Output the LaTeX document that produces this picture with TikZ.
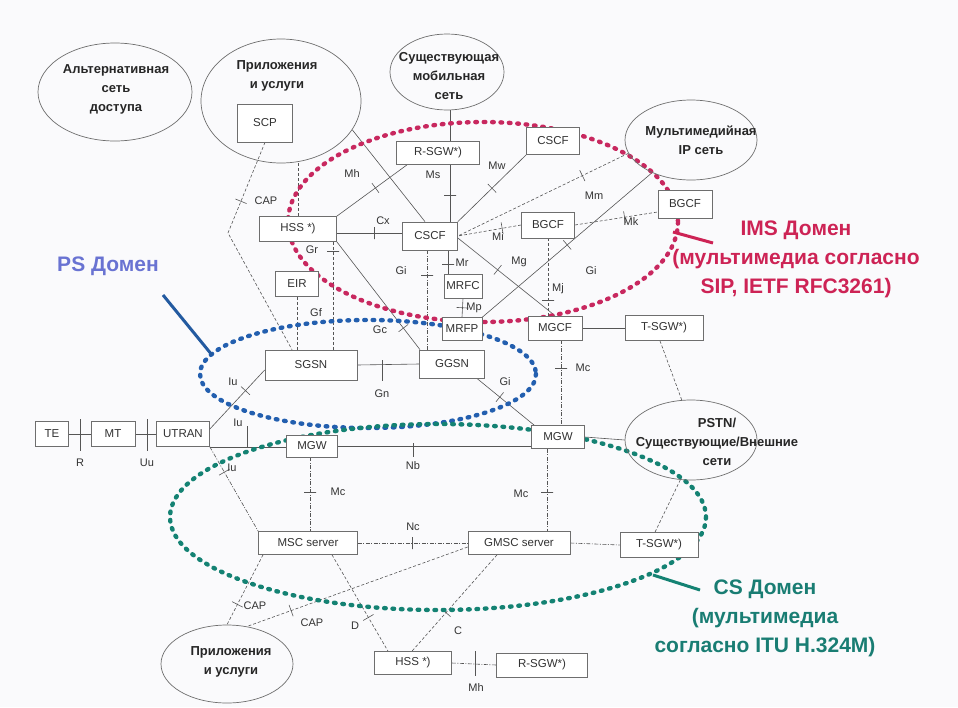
\documentclass[tikz,border=0pt]{standalone}
\usepackage{fontspec}
\setmainfont{Liberation Sans}
\usetikzlibrary{shapes.geometric}
\definecolor{imsred}{RGB}{205,35,85}
\definecolor{imsdot}{RGB}{200,40,95}
\definecolor{psdot}{RGB}{35,95,175}
\definecolor{pstext}{RGB}{105,115,210}
\definecolor{psline}{RGB}{35,90,160}
\definecolor{csdot}{RGB}{20,130,115}
\definecolor{cstext}{RGB}{25,125,115}
\definecolor{linecol}{RGB}{85,85,85}
\definecolor{boxcol}{RGB}{110,110,110}
\definecolor{txtcol}{RGB}{50,50,50}
\definecolor{bgcol}{RGB}{250,250,252}
\pgfdeclarelayer{bgl}
\pgfdeclarelayer{lines}
\pgfdeclarelayer{dots}
\pgfsetlayers{bgl,lines,dots,main}
\begin{document}
\begin{tikzpicture}[x=1pt,y=-1pt,
  box/.style={draw=boxcol,line width=0.7pt,fill=white,inner sep=0pt,text=txtcol,font=\fontsize{11.5}{12}\selectfont},
  bsz/.style 2 args={minimum width=#1pt,minimum height=#2pt},
  cloud/.style={ellipse,draw=boxcol,line width=0.7pt,inner sep=0pt},
  ctext/.style={align=center,text=black!85,inner sep=0pt,font=\bfseries\fontsize{13}{19}\selectfont},
  lab/.style={text=black!80,inner sep=0pt,font=\fontsize{11}{12}\selectfont},
  sol/.style={draw=linecol,line width=0.6pt},
  dsh/.style={sol,dash pattern=on 3pt off 2pt},
  dd/.style={sol,dash pattern=on 4pt off 1.5pt on 1pt off 1.5pt},
  itick/.style={sloped,draw=linecol,line width=0.6pt,rectangle,minimum width=0pt,minimum height=12pt,inner sep=0pt,fill=none,solid},
  dotline/.style={line width=4.4pt,line cap=round,dash pattern=on 1.6pt off 6.8pt},
  big/.style={align=center,inner sep=0pt,font=\bfseries\fontsize{21}{29}\selectfont},
  ptr/.style={line width=3pt}
]
\useasboundingbox (0,0) rectangle (958,707);
\begin{pgfonlayer}{bgl}
\fill[bgcol] (0,0) rectangle (958,707);
\end{pgfonlayer}

% ellipses (clouds)
\node[cloud,bsz={154}{98}] (alt) at (115,92) {};
\node[cloud,bsz={160}{124}] (appT) at (281,101) {};
\node[cloud,bsz={114}{76}] (mob) at (447,72) {};
\node[cloud,bsz={132}{80}] (ipn) at (691,140) {};
\node[cloud,bsz={132}{80}] (pstn) at (691,440) {};
\node[cloud,bsz={132}{78}] (appB) at (227,664) {};

\node[ctext] (altT) at (116,89) {Альтернативная\\сеть\\доступа};
\node[ctext] (appTT) at (277,76) {Приложения\\и услуги};
\node[ctext] (mobT) at (449,76) {Существующая\\мобильная\\сеть};
\node[ctext] (ipnT) at (701,140) {Мультимедийная\\IP сеть};
\node[ctext] (pstnT) at (717,442) {PSTN/\\Существующие/Внешние\\сети};
\node[ctext] (appBT) at (231,662) {Приложения\\и услуги};

% boxes
\node[box,bsz={55}{38}] (scp) at (265,123) {SCP};
\node[box,bsz={77}{25}] (hssT) at (298,229) {HSS *)};
\node[box,bsz={83}{23}] (rsgwT) at (438,153) {R-SGW*)};
\node[box,bsz={53}{27}] (cscfT) at (553,141) {CSCF};
\node[box,bsz={55}{28}] (cscf) at (430,236) {CSCF};
\node[box,bsz={53}{26}] (bgcf) at (548,225) {BGCF};
\node[box,bsz={54}{28}] (bgcfR) at (685,204) {BGCF};
\node[box,bsz={38}{24}] (mrfc) at (463,286) {MRFC};
\node[box,bsz={40}{23}] (mrfp) at (462,329) {MRFP};
\node[box,bsz={43}{25}] (eir) at (297,284) {EIR};
\node[box,bsz={92}{30}] (sgsn) at (311,365) {SGSN};
\node[box,bsz={65}{28}] (ggsn) at (452,364) {GGSN};
\node[box,bsz={54}{24}] (mgcf) at (555,328) {MGCF};
\node[box,bsz={78}{25}] (tsgwT) at (664,328) {T-SGW*)};
\node[box,bsz={33}{25}] (te) at (52,434) {TE};
\node[box,bsz={44}{25}] (mt) at (113,434) {MT};
\node[box,bsz={53}{25}] (utran) at (183,434) {UTRAN};
\node[box,bsz={51}{22}] (mgwL) at (312,446) {MGW};
\node[box,bsz={53}{23}] (mgwR) at (558,437) {MGW};
\node[box,bsz={99}{23}] (msc) at (308,543) {MSC server};
\node[box,bsz={102}{23}] (gmsc) at (519,543) {GMSC server};
\node[box,bsz={78}{25}] (tsgwB) at (659,545) {T-SGW*)};
\node[box,bsz={77}{23}] (hssB) at (413,663) {HSS *)};
\node[box,bsz={91}{24}] (rsgwB) at (542,665) {R-SGW*)};

% helper coordinates
\coordinate (capbend) at (228,233);
\coordinate (xA) at (450,0);
\coordinate (xB) at (427,0);
\coordinate (xC) at (448,0);
\coordinate (xD) at (333,0);
\coordinate (xE) at (310,0);
\coordinate (xF) at (547,0);
\coordinate (xG) at (561,0);

\begin{pgfonlayer}{lines}
\draw[dsh] (scp.south) -- node[itick,pos=.65]{} (capbend) -- ([xshift=-19pt]sgsn.north);
\draw[dsh] (appT.south -| hssT.north) -- (hssT.north);
\draw[sol] (appT.-22) -- ([xshift=-5pt]cscf.north);
\draw[sol] ([xshift=-31pt]rsgwT.south) -- node[itick,pos=.45]{} (hssT.north east);
\draw[sol] (mob.south -| xA) -- (rsgwT.north -| xA);
\draw[sol] (rsgwT.south -| xA) -- node[itick,pos=.53]{} (cscf.north -| xA);
\draw[sol] (cscfT.south west) -- node[itick,pos=.5]{} (cscf.north east);
\draw[dsh] (ipn.192) -- node[itick,pos=.27]{} (cscf.east);
\draw[dsh] (bgcf.west) -- node[itick,pos=.3]{} (cscf.east);
\draw[dsh] (bgcf.east) -- node[itick,pos=.6]{} ([yshift=-8pt]bgcfR.west);
\draw[sol] ([yshift=-2pt]cscf.east) -- node[itick,pos=.41]{} (mgcf.north);
\draw[dsh] (bgcf.south) -- node[itick,pos=.8]{} (bgcf.south |- mgcf.north);
\draw[sol] (ipn.220) -- node[itick,pos=.5]{} (mrfp.north east);
\draw[dd] (cscf.south -| xB) -- node[itick,pos=.25]{} (ggsn.north -| xB);
\draw[sol] (cscf.south -| xC) -- node[itick,pos=.6]{} (mrfc.north -| xC);
\draw[sol] (mrfc.south) -- node[itick,pos=.5]{} (mrfp.north);
\draw[sol] ([yshift=-4pt]hssT.east) -- node[itick,pos=.58]{} ([yshift=-4pt]hssT.east -| cscf.west);
\draw[dsh] (hssT.south -| xD) -- node[itick,pos=.09]{} (sgsn.north -| xD);
\draw[sol] (hssT.south east) -- node[itick,pos=.8]{} ([xshift=-32pt]ggsn.north);
\draw[dsh] (eir.south) -- (eir.south |- sgsn.north);
\draw[sol] (sgsn.east) -- (ggsn.west);
\draw[sol] (382,360) -- (382,381);
\draw[sol] ([xshift=-8pt]ggsn.south east) -- node[itick,pos=.4]{} ([xshift=3pt]mgwR.north west);
\draw[sol] ([yshift=5pt]utran.east) -- node[itick,pos=.65]{} ([yshift=-5pt]sgsn.west);
\draw[sol] (utran.south east) -- (utran.south east -| mgwL.west);
\draw[sol] (247,426) -- (247,447);
\draw[dd] (utran.south east) -- node[itick,pos=.3]{} (msc.north west);
\draw[dd] (mgwL.south -| xE) -- node[itick,pos=.47]{} (msc.north -| xE);
\draw[dd] (mgwR.south -| xF) -- node[itick,pos=.53]{} (gmsc.north -| xF);
\draw[sol] (mgwL.east) -- (mgwL.east -| mgwR.west);
\draw[sol] (413,443) -- (413,457);
\draw[sol] (mgwR.east) -- (pstn.west);
\draw[dd] (msc.east) -- node[itick,pos=.5]{} (gmsc.west);
\draw[dd] (gmsc.east) -- (tsgwB.west);
\draw[dsh] (pstn.255) -- ([xshift=-4pt]tsgwB.north);
\draw[dsh] ([xshift=-4pt]tsgwT.south) -- (pstn.103);
\draw[sol] (mgcf.east) -- (tsgwT.west);
\draw[dd] (mgcf.south -| xG) -- node[itick,pos=.33]{} (mgwR.north -| xG);
\draw[dsh] ([xshift=-45pt]msc.south) -- node[itick,pos=.71]{} (appB.north);
\draw[dsh] ([yshift=-4pt]gmsc.west) -- node[itick,pos=.8]{} (appB.62);
\draw[dsh] ([xshift=24pt]msc.south) -- node[itick,pos=.65]{} ([xshift=-25pt]hssB.north);
\draw[dsh] ([xshift=-22pt]gmsc.south) -- node[itick,pos=.6]{} ([xshift=-1pt]hssB.north);
\draw[dd] (hssB.east) -- (rsgwB.west);
\draw[sol] (475,651) -- (475,676);
\draw[sol] (te) -- (mt);
\draw[sol] (80,419) -- (80,451);
\draw[sol] (mt) -- (utran);
\draw[sol] (147,419) -- (147,451);
\end{pgfonlayer}

% domain outlines
\begin{pgfonlayer}{dots}
\draw[dotline,imsdot] (483,222) ellipse [x radius=195,y radius=100];
\draw[dotline,psdot] (368,374) ellipse [x radius=168,y radius=54];
\draw[dotline,csdot] (438,517) ellipse [x radius=268,y radius=93];
\end{pgfonlayer}

% interface labels
\node[lab] at (266,201) {CAP};
\node[lab] at (352,174) {Mh};
\node[lab] at (433,175) {Ms};
\node[lab] at (497,166) {Mw};
\node[lab] at (594,196) {Mm};
\node[lab] at (498,237) {Mi};
\node[lab] at (631,222) {Mk};
\node[lab] at (519,262) {Mg};
\node[lab] at (558,289) {Mj};
\node[lab] at (591,271) {Gi};
\node[lab] at (401,271) {Gi};
\node[lab] at (462,263) {Mr};
\node[lab] at (474,308) {Mp};
\node[lab] at (383,221) {Cx};
\node[lab] at (312,250) {Gr};
\node[lab] at (380,330) {Gc};
\node[lab] at (316,313) {Gf};
\node[lab] at (382,394) {Gn};
\node[lab] at (505,382) {Gi};
\node[lab] at (233,382) {Iu};
\node[lab] at (238,423) {Iu};
\node[lab] at (232,468) {Iu};
\node[lab] at (338,492) {Mc};
\node[lab] at (521,494) {Mc};
\node[lab] at (583,368) {Mc};
\node[lab] at (413,466) {Nb};
\node[lab] at (413,527) {Nc};
\node[lab] at (255,606) {CAP};
\node[lab] at (312,623) {CAP};
\node[lab] at (355,626) {D};
\node[lab] at (458,631) {C};
\node[lab] at (476,688) {Mh};
\node[lab] at (80,463) {R};
\node[lab] at (147,463) {Uu};

% domain titles and pointers
\node[big,text=pstext] (pslab) at (108,266) {PS Домен};
\coordinate (psA) at (163,295);
\coordinate (psB) at (212,355);
\draw[ptr,psline] (psA) -- (psB);
\node[big,text=imsred] (imslab) at (796,259) {IMS Домен\\(мультимедиа согласно\\SIP, IETF RFC3261)};
\coordinate (imsA) at (673,232);
\coordinate (imsB) at (713,243);
\draw[ptr,imsred] (imsA) -- (imsB);
\node[big,text=cstext] (cslab) at (765,618) {CS Домен\\(мультимедиа\\согласно ITU H.324M)};
\coordinate (csA) at (653,575);
\coordinate (csB) at (700,590);
\draw[ptr,csdot] (csA) -- (csB);
\end{tikzpicture}
\end{document}
